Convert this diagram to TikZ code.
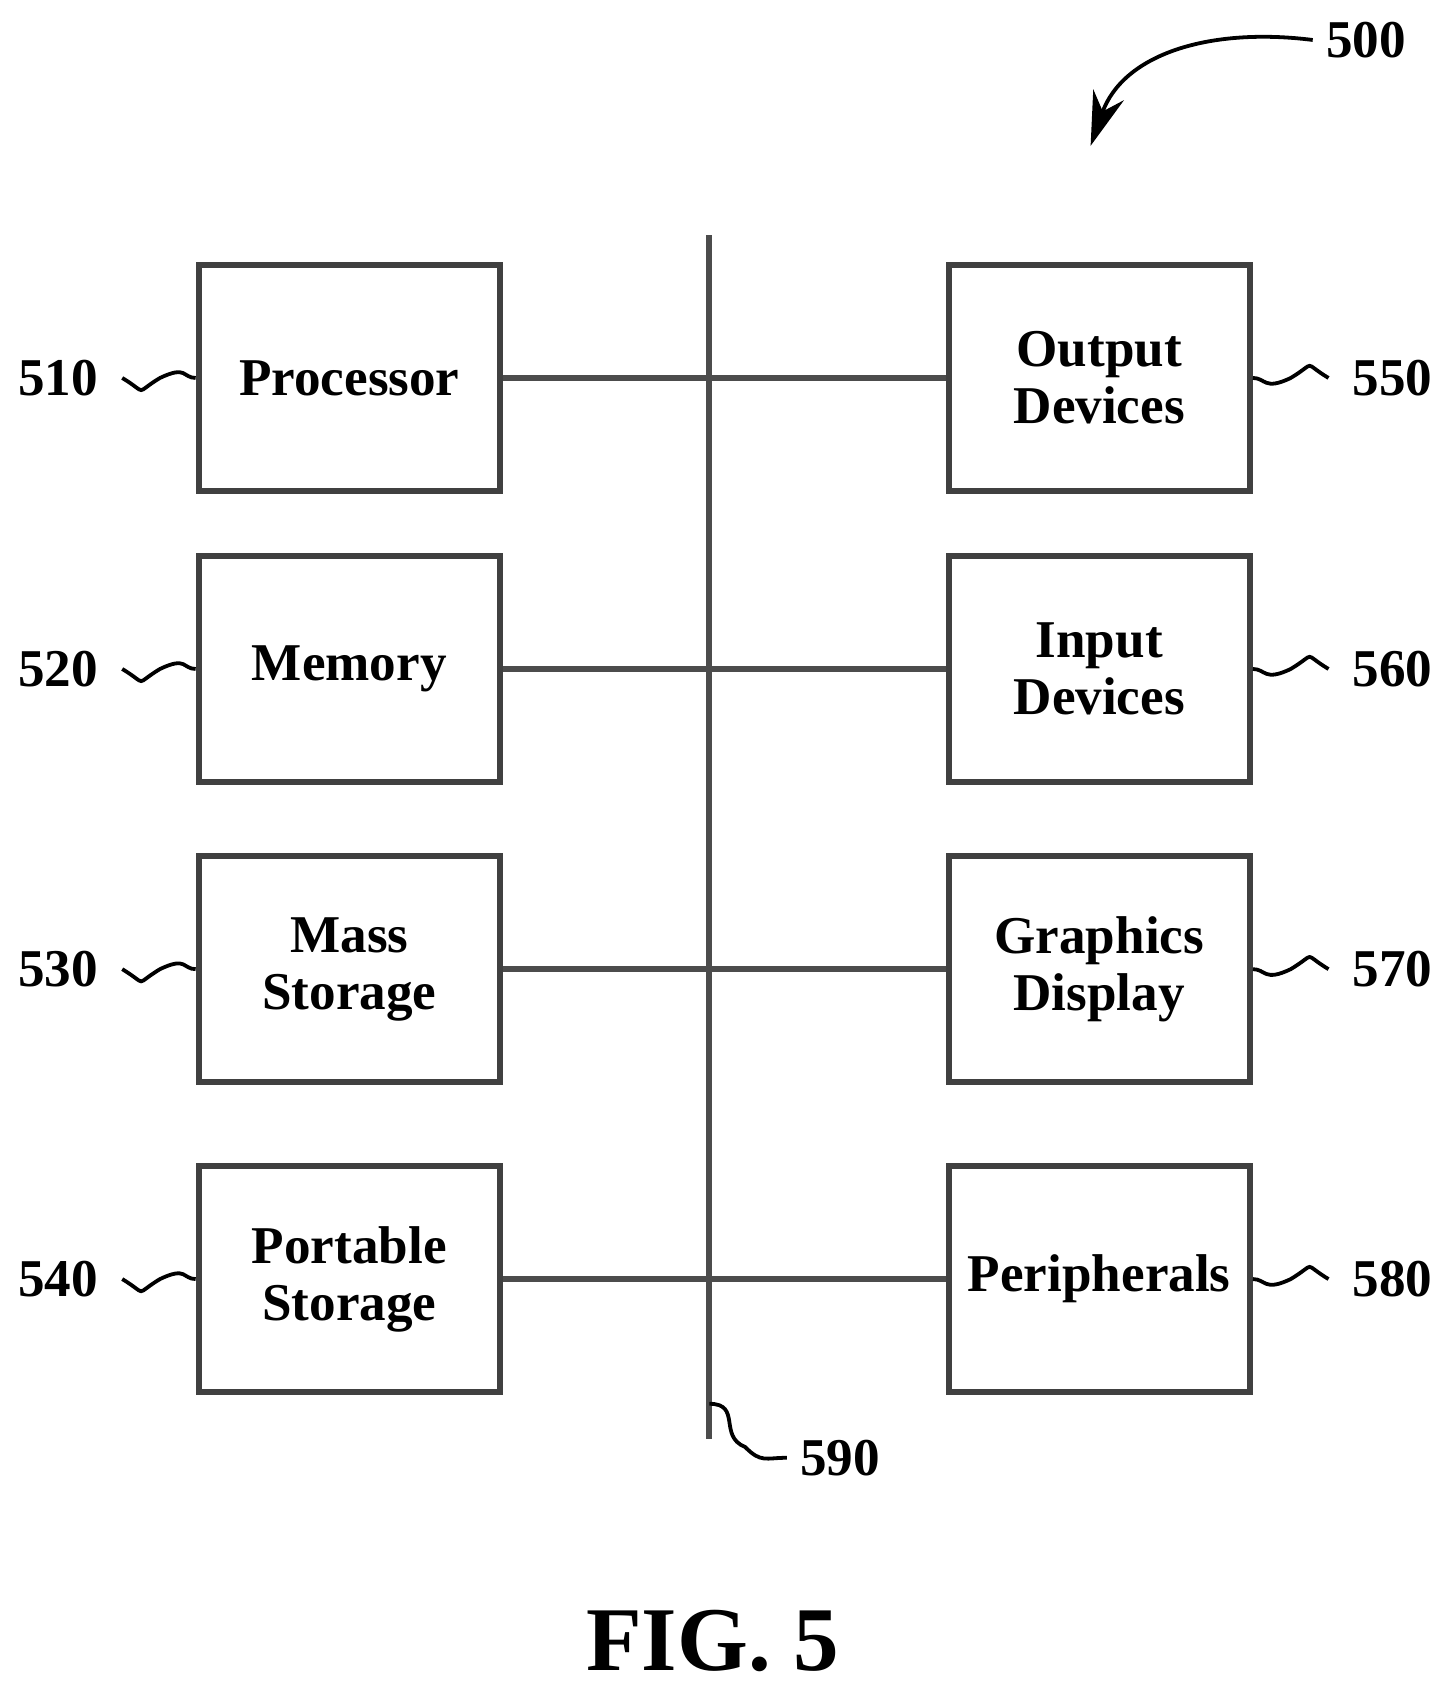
\documentclass[tikz,border=0pt]{standalone}
\usepackage{fontspec}
\setmainfont{Liberation Serif}
\usetikzlibrary{positioning,arrows.meta}
\tikzset{
  blk/.style={draw=black!75, line width=1.6pt, minimum width=2.79cm, minimum height=2.09cm,
    align=center, font=\fontsize{14}{15}\selectfont\bfseries},
  bus/.style={draw=black!70, line width=1.6pt},
  lbl/.style={font=\fontsize{14}{15}\selectfont\bfseries},
  lead/.style={line width=1pt},
}
\begin{document}
\begin{tikzpicture}[x=1cm,y=1cm]
\useasboundingbox (0,0) rectangle (13.4,-15.66);
% bus
\coordinate (bt) at (6.57,-2.18);
\coordinate (bb) at (6.57,-13.33);
\draw[bus] (bt) -- (bb);
% left column
\node[blk] (proc) at (3.235,-3.50) {Processor};
\node[blk] (mem)  at (3.235,-6.195) {Memory};
\node[blk] (mass) at (3.235,-8.975) {Mass\\Storage};
\node[blk] (port) at (3.235,-11.845) {Portable\\Storage};
% right column
\node[blk] (out)  at (10.18,-3.50) {Output\\Devices};
\node[blk] (inp)  at (10.18,-6.195) {Input\\Devices};
\node[blk] (gfx)  at (10.18,-8.975) {Graphics\\Display};
\node[blk] (peri) at (10.18,-11.845) {Peripherals};
% links
\foreach \a/\b in {proc/out,mem/inp,mass/gfx,port/peri}
  \draw[bus] (\a.east) -- (\b.west);
% reference numerals
\foreach \n/\t in {proc/510,mem/520,mass/530,port/540}{
  \node[lbl,left=0.78cm of \n.west] (l\t) {\t};
  \draw[lead] ([xshift=0.1cm]l\t.east) .. controls +(0.25,-0.15) and +(-0.25,-0.15) .. ++(0.35,0)
    .. controls +(0.25,0.12) and +(-0.12,0) .. (\n.west);
}
\foreach \n/\t in {out/550,inp/560,gfx/570,peri/580}{
  \node[lbl,right=0.8cm of \n.east] (l\t) {\t};
  \draw[lead] (\n.east) .. controls +(0.12,0) and +(-0.25,-0.12) .. ++(0.35,0)
    .. controls +(0.25,0.15) and +(-0.25,0.15) .. ([xshift=-0.1cm]l\t.west);
}
\node[lbl] (l590) at (7.78,-13.50) {590};
\draw[lead] (6.57,-13.0) .. controls +(0.3,0) and +(-0.25,0.1) .. (6.9,-13.4)
  .. controls +(0.15,-0.15) and +(-0.2,0) .. (l590.west);
\node[lbl] (l500) at (12.65,-0.37) {500};
\coordinate (a500) at (10.1,-1.35);
\draw[lead,-{Stealth[length=5mm,width=3mm]}] (l500.west) .. controls (11.2,-0.25) and (10.4,-0.5) .. (a500);
\node[font=\fontsize{24}{26}\selectfont\bfseries] (fig) at (6.6,-15.2) {FIG. 5};
\end{tikzpicture}
\end{document}
